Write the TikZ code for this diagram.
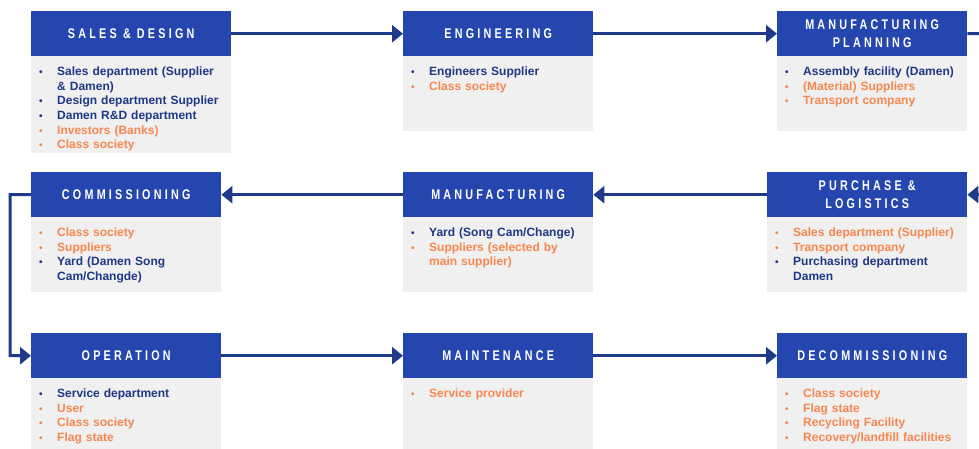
\documentclass[tikz,border=0pt]{standalone}
\usepackage{fontspec}
\setmainfont{Liberation Sans}
\newfontfamily\hdfont[FakeStretch=0.77,LetterSpace=23]{Liberation Sans}
\usetikzlibrary{arrows.meta}

\definecolor{hdblue}{HTML}{2446AE}
\definecolor{arrowblue}{HTML}{1F3A8A}
\definecolor{navytxt}{HTML}{1F3787}
\definecolor{orangetxt}{HTML}{F7864F}
\definecolor{bodygray}{HTML}{F0F0F0}

% one bulleted entry: bullet and text share the entry colour
\newcommand\bl[2]{\par\noindent\hangindent=18pt\hangafter=1%
  \makebox[18pt][l]{\rule{0pt}{10pt}\color{#1}\fontsize{10}{10}\selectfont\textbullet}{\color{#1}#2}\par}
\newcommand\nv[1]{\bl{navytxt}{#1}}
\newcommand\og[1]{\bl{orangetxt}{#1}}

\tikzset{
  hdr/.style={fill=hdblue, text=white, inner sep=0pt, anchor=north west,
    minimum height=45pt, align=center,
    font=\hdfont\bfseries\fontsize{14}{17.6}\selectfont},
  bodybox/.style={fill=bodygray, inner sep=0pt, anchor=north west},
  items/.style={inner sep=0pt, anchor=north west, text width=200pt, align=left,
    font=\bfseries\fontsize{12}{14.6}\selectfont},
  flow/.style={draw=arrowblue, line width=3pt, -{Triangle[length=11pt,width=17pt]}},
  plainflow/.style={draw=arrowblue, line width=3pt}
}

\begin{document}
\begin{tikzpicture}[x=1pt,y=-1pt]
\useasboundingbox (0,0) rectangle (979,448);

% ---------- row 1 ----------
\node[bodybox, minimum width=200pt, minimum height=97pt] (sdb) at (31,56) {};
\node[hdr, minimum width=200pt] (sd) at (31,11) {SALES \& DESIGN};
\node[items] (sdi) at (39,60.8) {%
  \nv{Sales department (Supplier\newline \& Damen)}
  \nv{Design department Supplier}
  \nv{Damen R\&D department}
  \og{Investors (Banks)}
  \og{Class society}};

\node[bodybox, minimum width=190pt, minimum height=75pt] (engb) at (403,56) {};
\node[hdr, minimum width=190pt] (eng) at (403,11) {ENGINEERING};
\node[items] (engi) at (411,60.8) {%
  \nv{Engineers Supplier}
  \og{Class society}};

\node[bodybox, minimum width=190pt, minimum height=75pt] (mpb) at (777,56) {};
\node[hdr, minimum width=190pt] (mp) at (777,11) {MANUFACTURING\\PLANNING};
\node[items] (mpi) at (785,60.8) {%
  \nv{Assembly facility (Damen)}
  \og{(Material) Suppliers}
  \og{Transport company}};

% ---------- row 2 ----------
\node[bodybox, minimum width=190pt, minimum height=75pt] (comb) at (31,217) {};
\node[hdr, minimum width=190pt] (com) at (31,172) {COMMISSIONING};
\node[items] (comi) at (39,221.8) {%
  \og{Class society}
  \og{Suppliers}
  \nv{Yard (Damen Song\newline Cam/Changde)}};

\node[bodybox, minimum width=190pt, minimum height=75pt] (manb) at (403,217) {};
\node[hdr, minimum width=190pt] (man) at (403,172) {MANUFACTURING};
\node[items] (mani) at (411,221.8) {%
  \nv{Yard (Song Cam/Change)}
  \og{Suppliers (selected by\newline main supplier)}};

\node[bodybox, minimum width=200pt, minimum height=75pt] (plb) at (767,217) {};
\node[hdr, minimum width=200pt] (pl) at (767,172) {PURCHASE \&\\LOGISTICS};
\node[items] (pli) at (775,221.8) {%
  \og{Sales department (Supplier)}
  \og{Transport company}
  \nv{Purchasing department\newline Damen}};

% ---------- row 3 ----------
\node[bodybox, minimum width=190pt, minimum height=80pt] (opb) at (31,378) {};
\node[hdr, minimum width=190pt] (op) at (31,333) {OPERATION};
\node[items] (opi) at (39,382.8) {%
  \nv{Service department}
  \og{User}
  \og{Class society}
  \og{Flag state}};

\node[bodybox, minimum width=190pt, minimum height=80pt] (maib) at (403,378) {};
\node[hdr, minimum width=190pt] (mai) at (403,333) {MAINTENANCE};
\node[items] (maii) at (411,382.8) {%
  \og{Service provider}};

\node[bodybox, minimum width=190pt, minimum height=80pt] (decb) at (777,378) {};
\node[hdr, minimum width=190pt] (dec) at (777,333) {DECOMMISSIONING};
\node[items] (deci) at (785,382.8) {%
  \og{Class society}
  \og{Flag state}
  \og{Recycling Facility}
  \og{Recovery/landfill facilities}};

% ---------- connectors ----------
\coordinate (out1) at (990,33.5);
\coordinate (in2) at (990,194.5);
\coordinate (loop) at (10,194.5);

\draw[flow] (sd.east) -- (eng.west);
\draw[flow] (eng.east) -- (mp.west);
\draw[plainflow] (mp.east) -- (out1);

\draw[flow] (in2) -- (pl.east);
\draw[flow] (pl.west) -- (man.east);
\draw[flow] (man.west) -- (com.east);
\draw[flow] (com.west) -- (loop) |- (op.west);

\draw[flow] (op.east) -- (mai.west);
\draw[flow] (mai.east) -- (dec.west);
\end{tikzpicture}
\end{document}
